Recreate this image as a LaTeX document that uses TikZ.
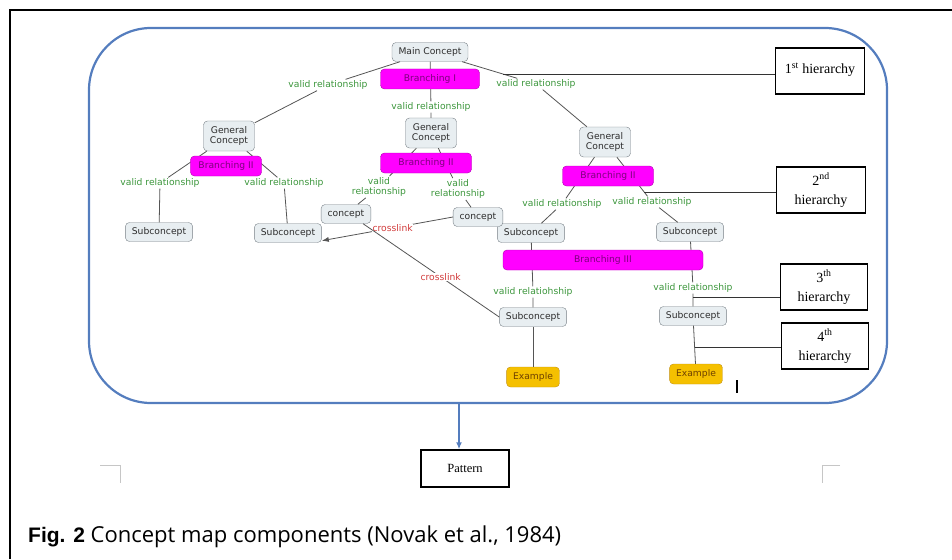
\documentclass[tikz,border=0pt]{standalone}
\usepackage{fontspec}
\setmainfont{Liberation Serif}
\newfontfamily\mapfont{DejaVu Sans}
\newfontfamily\capfont{Open Sans}
\newfontfamily\capbold{Liberation Sans}
\usepackage{tikz}
\usetikzlibrary{positioning, arrows.meta, calc}

\begin{document}
\begin{tikzpicture}[x=1pt, y=-1pt, >=latex]
        % colours of the map
        \definecolor{frameblue}{RGB}{84,125,190}
        \definecolor{boxfill}{RGB}{232,238,241}
        \definecolor{boxline}{RGB}{120,128,135}
        \definecolor{boxtext}{RGB}{45,45,45}
        \definecolor{branchfill}{RGB}{255,0,255}
        \definecolor{branchline}{RGB}{175,0,175}
        \definecolor{branchtext}{RGB}{125,0,125}
        \definecolor{examplefill}{RGB}{245,192,0}
        \definecolor{exampleline}{RGB}{195,145,20}
        \definecolor{exampletext}{RGB}{110,65,0}
        \definecolor{relgreen}{RGB}{60,150,60}
        \definecolor{crossred}{RGB}{210,60,60}
        \definecolor{linkgray}{RGB}{85,85,85}

        % common styles
        \tikzset{
            mapfont/.style={font=\mapfont\fontsize{9.2}{10.5}\selectfont},
            concept/.style={mapfont, draw=boxline, fill=boxfill, text=boxtext, rounded corners=4pt, inner xsep=6.5pt, inner ysep=3pt, minimum height=19pt, align=center},
            general/.style={concept, minimum height=30pt},
            branch/.style={mapfont, draw=branchline, fill=branchfill, text=branchtext, rounded corners=4pt, minimum height=20pt, inner xsep=8pt},
            example/.style={concept, draw=exampleline, fill=examplefill, text=exampletext, minimum height=20pt},
            relation/.style={mapfont, text=relgreen, inner sep=1pt, align=center},
            cross/.style={mapfont, text=crossred, fill=white, inner sep=0.5pt},
            link/.style={draw=linkgray, line width=0.8pt},
            levelbox/.style={draw, line width=1.6pt, minimum width=89pt, minimum height=46pt, align=center, font=\fontsize{14}{19}\selectfont, inner sep=2pt},
            pointer/.style={draw=black!80, line width=0.9pt},
            cropmark/.style={draw=gray!45, line width=0.6pt}
        }

        \useasboundingbox (0,0) rectangle (952,559);

        % --- page frame and crop marks ---
        \draw[line width=2.5pt] (10,559) -- (10,10) -- (952,10);
        \draw[cropmark] (100,465) -- (120,465) -- (120,483);
        \draw[cropmark] (840,465) -- (822,465) -- (822,483);

        % --- rounded frame round the map ---
        \node[draw=frameblue, line width=2.2pt, rounded corners=62pt, minimum width=798pt, minimum height=375pt] (mapframe) at (488,215.5) {};

        % --- concepts ---
        \node[concept] (main) at (430,52) {Main Concept};
        \node[general] (gcL) at (229,136) {General\\Concept};
        \node[general] (gcM) at (431,133) {General\\Concept};
        \node[general] (gcR) at (605,142) {General\\Concept};
        \node[concept] (subLL) at (159,232) {Subconcept};
        \node[concept] (subLR) at (288,233) {Subconcept};
        \node[concept] (subRL) at (531,233) {Subconcept};
        \node[concept] (subRR) at (690,232) {Subconcept};
        \node[concept] (conL) at (346,214) {concept};
        \node[concept] (conR) at (478,217) {concept};
        \node[concept] (subBL) at (533,317) {Subconcept};
        \node[concept] (subBR) at (693,316) {Subconcept};
        \node[example] (exL) at (533,377) {Example};
        \node[example] (exR) at (696,374) {Example};

        % --- linking phrases ---
        \node[relation] (rel1) at (328,85) {valid relationship};
        \node[relation] (rel2) at (431,107) {valid relationship};
        \node[relation] (rel3) at (536,84) {valid relationship};
        \node[relation] (relLL) at (160,183) {valid relationship};
        \node[relation] (relLR) at (284,183) {valid relationship};
        \node[relation] (relML) at (379,187) {valid\\relationship};
        \node[relation] (relMR) at (458,189) {valid\\relationship};
        \node[relation] (relRL) at (562,204) {valid relationship};
        \node[relation] (relRR) at (652,202) {valid relationship};
        \node[relation] (relB3L) at (533,292) {valid relatiohship};
        \node[relation] (relB3R) at (693,288) {valid relationship};

        % --- links (drawn before the branching bars) ---
        \draw[link] (main) -- (rel1) -- (gcL);
        \draw[link] (main) -- (rel2) -- (gcM);
        \draw[link] (main) -- (rel3) -- (gcR);
        \draw[link] (gcL) -- (relLL) -- (subLL);
        \draw[link] (gcL) -- (relLR) -- (subLR);
        \draw[link] (gcM) -- (relML) -- (conL);
        \draw[link] (gcM) -- (relMR) -- (conR);
        \draw[link] (gcR) -- (relRL) -- (subRL);
        \draw[link] (gcR) -- (relRR) -- (subRR);
        \draw[link] (subRL) -- (relB3L) -- (subBL);
        \draw[link] (subRR) -- (relB3R) -- (subBR);
        \draw[link] (subBL) -- (exL);
        \draw[link] (subBR) -- (exR);

        % crosslinks
        \draw[link, -{Latex[length=7pt, width=5pt]}] (conR.west) -- node[cross, pos=0.46] (cross1) {crosslink} ([yshift=2pt]subLR.south east);
        \draw[link] ([xshift=-8pt]conL.south east) -- node[cross, pos=0.57] (cross2) {crosslink} (subBL.west);

        % --- branching bars on top of the links ---
        \node[branch, minimum width=99pt] (br1) at (430,79) {Branching I};
        \node[branch, minimum width=71pt] (br2L) at (226,166) {Branching II};
        \node[branch, minimum width=91pt] (br2M) at (426,163) {Branching II};
        \node[branch, minimum width=91pt] (br2R) at (608,176) {Branching II};
        \node[branch, minimum width=200pt] (br3) at (603,260) {Branching III};

        % --- hierarchy levels ---
        \node[levelbox] (lv1) at (820,71) {\raisebox{5pt}{1\textsuperscript{st} hierarchy}};
        \node[levelbox] (lv2) at (821,190) {2\textsuperscript{nd}\\hierarchy};
        \node[levelbox, minimum width=87pt] (lv3) at (824,287) {3\textsuperscript{th}\\hierarchy};
        \node[levelbox, minimum width=87pt] (lv4) at (825,346) {4\textsuperscript{th}\\hierarchy};

        \coordinate (hook1) at (503,74);
        \coordinate (hook2) at (644,192);
        \coordinate (hook3) at (693,297);
        \coordinate (hook4) at (694.5,347);
        \draw[pointer] (hook1) -- (hook1 -| lv1.west);
        \draw[pointer] (hook2) -- (hook2 -| lv2.west);
        \draw[pointer] (hook3) -- (hook3 -| lv3.west);
        \draw[pointer] (hook4) -- (hook4 -| lv4.west);

        % text cursor left in the figure
        \draw[line width=1.8pt] (737,380) -- (737,393);

        % --- outcome ---
        \node[draw, line width=1.4pt, minimum width=88pt, minimum height=37pt, font=\fontsize{12.5}{14}\selectfont] (pattern) at (465,468.5) {Pattern};
        \draw[frameblue, line width=1.6pt, -{Latex[length=7pt, width=6pt]}] ([xshift=-29pt]mapframe.south) -- ([xshift=-6pt]pattern.north);

        % --- caption ---
        \node[anchor=base west, inner sep=0pt, font=\fontsize{21}{24}\selectfont] (caption) at (28,542) {{\capbold\bfseries Fig. 2}\capfont\fontsize{22}{24}\selectfont\ Concept map components (Novak et al., 1984)};
\end{tikzpicture}
\end{document}
